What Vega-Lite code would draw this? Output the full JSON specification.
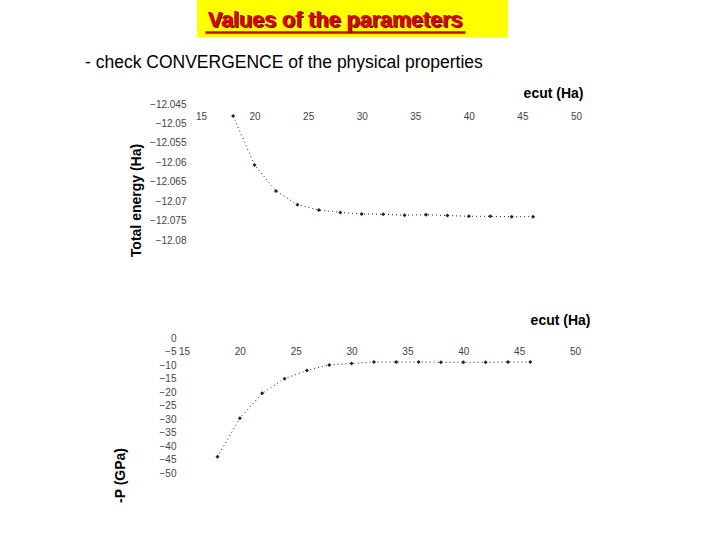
{
  "$schema": "https://vega.github.io/schema/vega-lite/v6.json",
  "padding": {"left": 85, "top": 0, "right": 0, "bottom": 0},
  "background": "white",
  "bounds": "flush",
  "spacing": 0,
  "config": {
    "view": {"stroke": null},
    "axis": {"grid": false, "domain": false, "ticks": false, "labelFlush": false, "labelFont": "Liberation Sans", "labelFontSize": 10, "labelColor": "#444444", "titleFont": "Liberation Sans", "titleFontWeight": "bold", "titleColor": "#000000"}
  },
  "datasets": {
    "conv": [
      {"ecut": 18, "energy": -12.0481, "pressure": -44.0},
      {"ecut": 20, "energy": -12.0607, "pressure": -29.7},
      {"ecut": 22, "energy": -12.0674, "pressure": -20.5},
      {"ecut": 24, "energy": -12.0709, "pressure": -15.1},
      {"ecut": 26, "energy": -12.0723, "pressure": -12.0},
      {"ecut": 28, "energy": -12.0729, "pressure": -10.0},
      {"ecut": 30, "energy": -12.0733, "pressure": -9.4},
      {"ecut": 32, "energy": -12.0734, "pressure": -8.9},
      {"ecut": 34, "energy": -12.0736, "pressure": -8.9},
      {"ecut": 36, "energy": -12.0735, "pressure": -8.9},
      {"ecut": 38, "energy": -12.0737, "pressure": -9.0},
      {"ecut": 40, "energy": -12.0739, "pressure": -9.0},
      {"ecut": 42, "energy": -12.0739, "pressure": -9.0},
      {"ecut": 44, "energy": -12.0740, "pressure": -8.9},
      {"ecut": 46, "energy": -12.0740, "pressure": -8.9}
    ]
  },
  "vconcat": [
    {
      "width": 311,
      "height": 37,
      "view": {"fill": "#ffff00", "stroke": null},
      "data": {"values": [{"label": "Values of the parameters", "pos": 0.5}]},
      "encoding": {
        "x": {"field": "pos", "type": "quantitative", "scale": {"domain": [0, 1], "range": [8, 268], "nice": false, "zero": false},
          "axis": {"orient": "bottom", "offset": -5, "domain": true, "domainColor": "#d40000", "domainWidth": 2.5, "labels": false, "ticks": false, "title": null}},
        "text": {"field": "label", "type": "nominal"}
      },
      "layer": [
        {"mark": {"type": "text", "font": "Liberation Sans", "fontSize": 21.5, "fontWeight": "bold", "color": "#5a1a00", "baseline": "alphabetic", "dx": 1.5, "dy": 9.5}},
        {"mark": {"type": "text", "font": "Liberation Sans", "fontSize": 21.5, "fontWeight": "bold", "color": "#e00000", "baseline": "alphabetic", "dy": 8}}
      ]
    },
    {
      "width": 311,
      "height": 50,
      "data": {"values": [{"label": "- check CONVERGENCE of the physical properties"}]},
      "mark": {"type": "text", "font": "Liberation Sans", "fontSize": 17.5, "color": "#000000", "align": "left", "baseline": "middle", "dx": -267.5, "dy": 1},
      "encoding": {"text": {"field": "label", "type": "nominal"}}
    },
    {
      "width": 379,
      "height": 153,
      "data": {"name": "conv"},
      "encoding": {
        "x": {"field": "ecut", "type": "quantitative",
          "scale": {"domain": [15, 50], "range": [4, 379], "nice": false, "zero": false},
          "axis": {"orient": "bottom", "offset": -131, "values": [15, 20, 25, 30, 35, 40, 45, 50], "labelPadding": 2,
            "title": "ecut (Ha)", "titleFontSize": 14, "titleAlign": "right", "titleBaseline": "middle", "titleX": 386, "titleY": -16}},
        "y": {"field": "energy", "type": "quantitative",
          "scale": {"domain": [-12.08, -12.045], "range": [153, 17], "nice": false, "zero": false},
          "axis": {"values": [-12.045, -12.05, -12.055, -12.06, -12.065, -12.07, -12.075, -12.08], "format": "~f", "labelPadding": 11,
            "title": "Total energy (Ha)", "titleFontSize": 14, "titleAngle": -90, "titleAlign": "center", "titleBaseline": "middle", "titleX": -61, "titleY": 113}}
      },
      "layer": [
        {"mark": {"type": "line", "strokeDash": [1, 3], "strokeWidth": 1, "color": "#1c1c55"}},
        {"mark": {"type": "point", "shape": "diamond", "filled": true, "size": 16, "opacity": 1, "color": "#1c1c55"}}
      ]
    },
    {
      "width": 379,
      "height": 233,
      "data": {"name": "conv"},
      "encoding": {
        "x": {"field": "ecut", "type": "quantitative",
          "scale": {"domain": [15, 50], "range": [-13, 378], "nice": false, "zero": false},
          "axis": {"orient": "bottom", "offset": -129, "values": [15, 20, 25, 30, 35, 40, 45, 50], "labelPadding": 2,
            "title": "ecut (Ha)", "titleFontSize": 14, "titleAlign": "right", "titleBaseline": "middle", "titleX": 393, "titleY": -24}},
        "y": {"field": "pressure", "type": "quantitative",
          "scale": {"domain": [-50, 0], "range": [233, 98], "nice": false, "zero": false},
          "axis": {"values": [0, -5, -10, -15, -20, -25, -30, -35, -40, -45, -50], "labelPadding": 21,
            "title": "-P (GPa)", "titleFontSize": 14, "titleAngle": -90, "titleAlign": "center", "titleBaseline": "middle", "titleX": -77, "titleY": 235}}
      },
      "layer": [
        {"mark": {"type": "line", "strokeDash": [1, 3], "strokeWidth": 1, "color": "#1c1c55"}},
        {"mark": {"type": "point", "shape": "diamond", "filled": true, "size": 16, "opacity": 1, "color": "#1c1c55"}}
      ]
    }
  ]
}
